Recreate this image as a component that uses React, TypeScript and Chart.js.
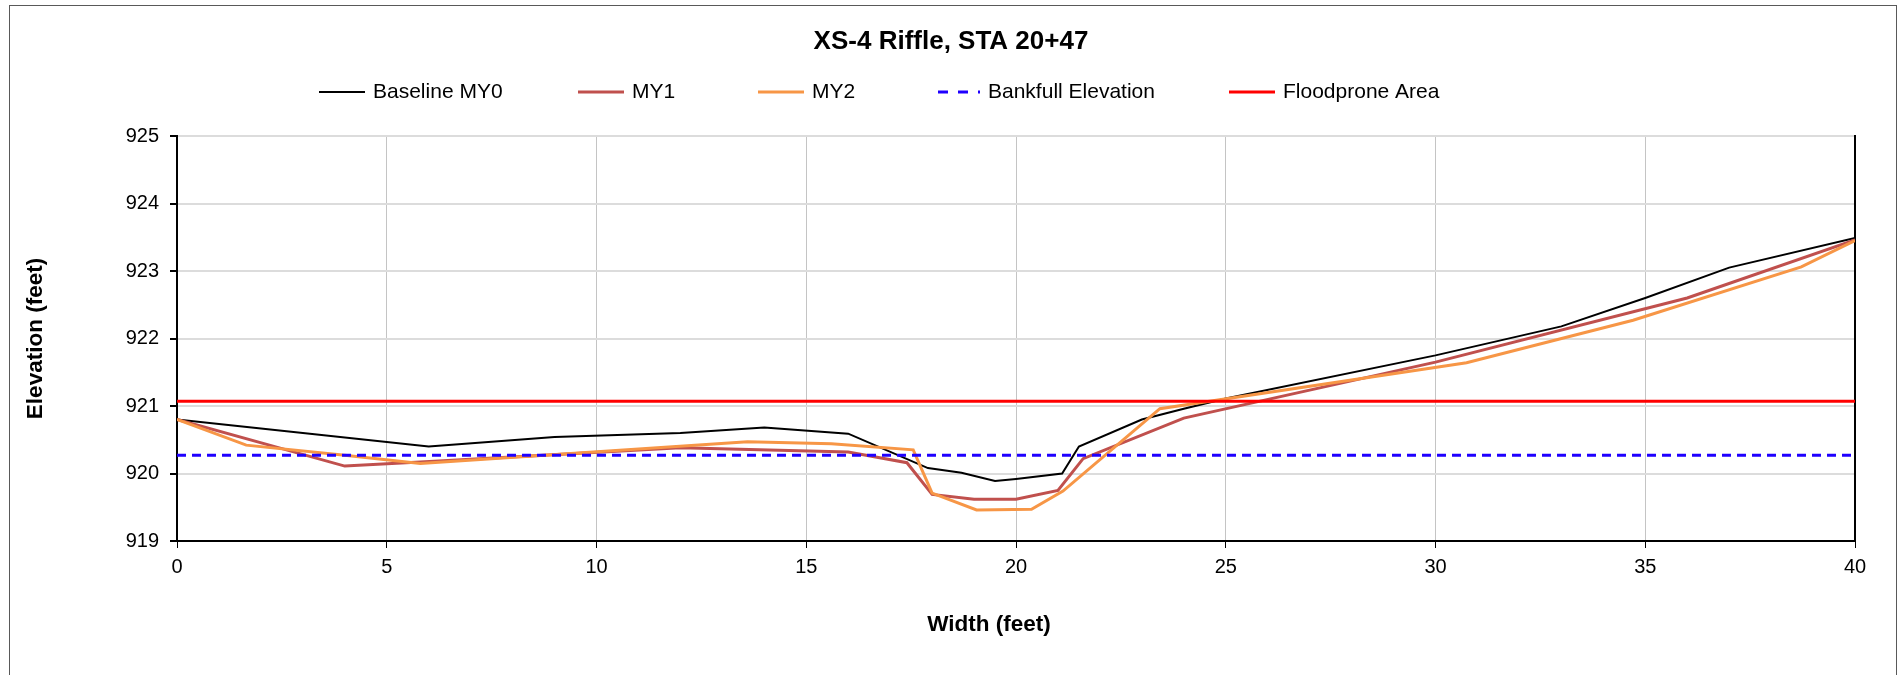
import React, { useEffect, useRef } from 'react';
import { Chart, registerables } from 'chart.js';

Chart.register(...registerables);

const TITLE = 'XS-4 Riffle, STA 20+47';
const X_TITLE = 'Width (feet)';
const Y_TITLE = 'Elevation (feet)';
const SERIES_LABELS = ['Baseline MY0', 'MY1', 'MY2', 'Bankfull Elevation', 'Floodprone Area'];

const X_MIN = 0;
const X_MAX = 40;
const X_STEP = 5;
const Y_MIN = 919;
const Y_MAX = 925;
const Y_STEP = 1;

const baselineX = [0, 6, 9, 12, 14, 16, 17.9, 18.7, 19.5, 20, 21.1, 21.5, 23, 24, 25, 30, 33, 35, 37, 40];
const baselineY = [920.8, 920.4, 920.54, 920.6, 920.68, 920.59, 920.08, 920.01, 919.89, 919.92, 920.0, 920.4, 920.8, 920.96, 921.11, 921.75, 922.18, 922.6, 923.05, 923.49];

const my1X = [0, 4, 5.8, 12, 16, 17.4, 18, 19, 20, 21, 21.6, 24, 30, 36, 40];
const my1Y = [920.8, 920.11, 920.17, 920.38, 920.32, 920.16, 919.69, 919.62, 919.62, 919.75, 920.22, 920.82, 921.65, 922.6, 923.46];

const my2X = [0, 1.65, 4, 5.8, 13.6, 15.6, 17.55, 18, 19.06, 20.37, 21.12, 23.43, 30.74, 34.71, 38.72, 40];
const my2Y = [920.8, 920.42, 920.27, 920.15, 920.47, 920.44, 920.35, 919.71, 919.46, 919.47, 919.74, 920.96, 921.64, 922.27, 923.06, 923.45];

const referenceX = [0, 40];
const bankfullY = [920.27, 920.27];
const floodproneY = [921.07, 921.07];

const FONT = '"Liberation Sans", Arial, Helvetica, sans-serif';

const toPoints = (xs: number[], ys: number[]) => xs.map((x, i) => ({ x, y: ys[i] }));

const LEGEND_STARTS = [319, 578, 758, 934, 1229];

const frameAndLegend = {
  id: 'frameAndLegend',
  afterDraw(chart: any) {
    const ctx = chart.ctx as CanvasRenderingContext2D;
    ctx.save();
    ctx.strokeStyle = '#595959';
    ctx.lineWidth = 1;
    ctx.setLineDash([]);
    ctx.strokeRect(9.5, 5.5, 1887, 700);

    const y = 92;
    chart.data.datasets.forEach((ds: any, i: number) => {
      const x0 = LEGEND_STARTS[i];
      ctx.beginPath();
      ctx.strokeStyle = ds.borderColor;
      ctx.lineWidth = ds.borderWidth;
      ctx.setLineDash(ds.borderDash ? [10, 10] : []);
      ctx.moveTo(x0 + (ds.borderDash ? 4 : 0), y);
      ctx.lineTo(x0 + 46, y);
      ctx.stroke();
      ctx.setLineDash([]);
      ctx.fillStyle = '#000';
      ctx.font = `21px ${FONT}`;
      ctx.textBaseline = 'middle';
      ctx.textAlign = 'left';
      ctx.fillText(ds.label, x0 + 54, y);
    });

    // x-axis title (offset left of plot centre, as in the reference)
    ctx.fillStyle = '#000';
    ctx.font = `bold 22.5px ${FONT}`;
    ctx.textAlign = 'center';
    ctx.textBaseline = 'middle';
    ctx.fillText(X_TITLE, 989, 625);
    ctx.restore();
  },
};

export default function App() {
  const canvasRef = useRef<HTMLCanvasElement | null>(null);

  useEffect(() => {
    const canvas = canvasRef.current;
    if (!canvas) return;
    const chart = new Chart(canvas, {
      type: 'line',
      data: {
        datasets: [
          {
            label: SERIES_LABELS[0],
            data: toPoints(baselineX, baselineY),
            borderColor: '#000000',
            borderWidth: 2,
            pointRadius: 0,
            tension: 0,
            order: 4,
          },
          {
            label: SERIES_LABELS[1],
            data: toPoints(my1X, my1Y),
            borderColor: '#C0504D',
            borderWidth: 3,
            pointRadius: 0,
            tension: 0,
            order: 3,
          },
          {
            label: SERIES_LABELS[2],
            data: toPoints(my2X, my2Y),
            borderColor: '#F79646',
            borderWidth: 3,
            pointRadius: 0,
            tension: 0,
            order: 2,
          },
          {
            label: SERIES_LABELS[3],
            data: toPoints(referenceX, bankfullY),
            borderColor: '#1F00FF',
            borderWidth: 3,
            borderDash: [9, 6],
            pointRadius: 0,
            tension: 0,
            order: 1,
          },
          {
            label: SERIES_LABELS[4],
            data: toPoints(referenceX, floodproneY),
            borderColor: '#FF0000',
            borderWidth: 3,
            pointRadius: 0,
            tension: 0,
            order: 0,
          },
        ],
      },
      options: {
        responsive: false,
        animation: false,
        devicePixelRatio: 1,
        layout: { padding: { top: 0, left: 0, right: 0, bottom: 0 } },
        plugins: {
          legend: { display: false },
          tooltip: { enabled: false },
          title: {
            display: true,
            text: TITLE,
            color: '#000',
            font: { family: FONT, size: 26, weight: 'bold', lineHeight: 1.2 },
            padding: { top: 26, bottom: 78.8 },
          },
        },
        scales: {
          x: {
            type: 'linear',
            min: X_MIN,
            max: X_MAX,
            afterFit: (scale: any) => {
              scale.height = 134;
            },
            ticks: {
              stepSize: X_STEP,
              color: '#000',
              font: { family: FONT, size: 20 },
              padding: 7,
              maxRotation: 0,
            },
            grid: {
              color: '#C4C4C4',
              lineWidth: 1,
              tickLength: 7,
              tickColor: '#000',
            },
            border: { color: '#000', width: 2 },
            title: { display: false, text: X_TITLE },
          },
          y: {
            type: 'linear',
            position: 'left',
            min: Y_MIN,
            max: Y_MAX,
            afterFit: (scale: any) => {
              scale.width = 177;
            },
            ticks: {
              stepSize: Y_STEP,
              color: '#000',
              font: { family: FONT, size: 20 },
              padding: 11,
            },
            grid: {
              color: '#DCDCDC',
              lineWidth: 2,
              tickLength: 7,
              tickColor: '#000',
            },
            border: { color: '#000', width: 2 },
            title: {
              display: true,
              text: Y_TITLE,
              align: 'center',
              color: '#000',
              font: { family: FONT, size: 22.5, weight: 'bold', lineHeight: 1.2 },
              padding: { top: 22.5, bottom: 0 },
            },
          },
          yRight: {
            type: 'linear',
            position: 'right',
            min: Y_MIN,
            max: Y_MAX,
            afterFit: (scale: any) => {
              scale.width = 47;
            },
            ticks: { display: false },
            grid: { drawOnChartArea: false, drawTicks: false },
            border: { color: '#000', width: 2 },
          },
        },
      },
      plugins: [frameAndLegend],
    } as any);
    return () => chart.destroy();
  }, []);

  return (
    <div style={{ position: 'absolute', left: 0, top: 0, width: 1902, height: 675, background: '#fff' }}>
      <canvas ref={canvasRef} width={1902} height={675} style={{ display: 'block', width: 1902, height: 675 }} />
    </div>
  );
}
